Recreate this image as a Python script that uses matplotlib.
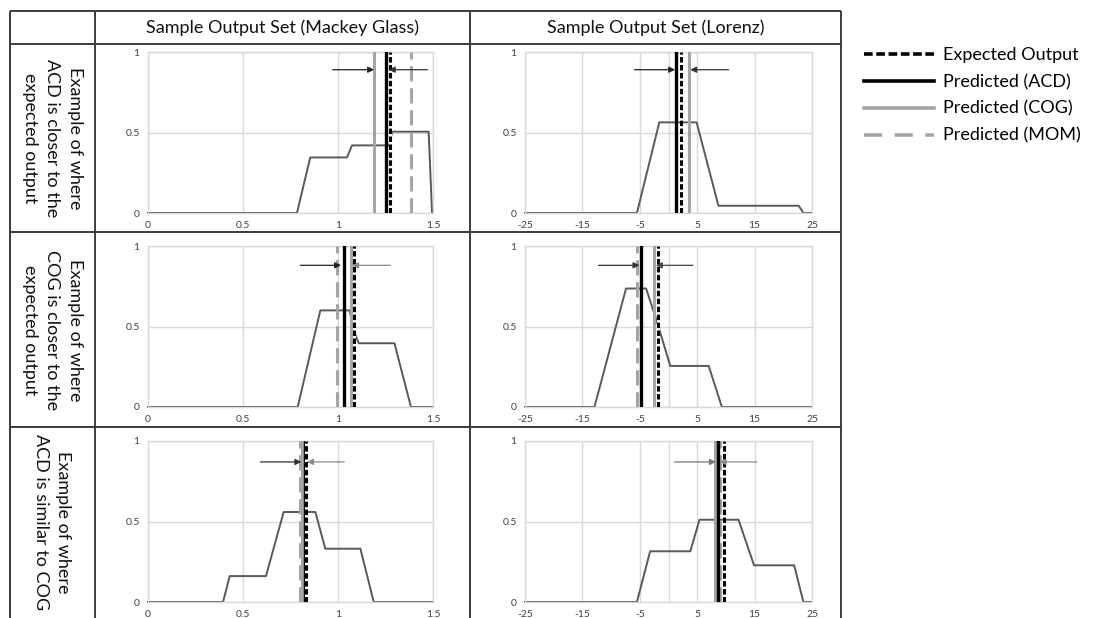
import matplotlib
matplotlib.use('Agg')
import matplotlib.pyplot as plt
from matplotlib.lines import Line2D

plt.rcParams['font.family'] = ['Lato', 'DejaVu Sans']

W, H = 1093, 618

# ---------------- data ----------------
col_titles = ["Sample Output Set (Mackey Glass)", "Sample Output Set (Lorenz)"]
row_labels = ["Example of where\nACD is closer to the\nexpected output",
              "Example of where\nCOG is closer to the\nexpected output",
              "Example of where\nACD is similar to COG"]

mg_xticks = [0, 0.5, 1, 1.5]
mg_xticklabels = ["0", "0.5", "1", "1.5"]
lz_xticks = [-25, -15, -5, 5, 15, 25]
lz_xticklabels = ["-25", "-15", "-5", "5", "15", "25"]
y_ticks = [0, 0.5, 1]
y_ticklabels = ["0", "0.5", "1"]

# panels order: (row1 MG, row1 Lorenz, row2 MG, row2 Lorenz, row3 MG, row3 Lorenz)
curve_x = [
    [0, 0.784, 0.854, 1.047, 1.074, 1.27, 1.285, 1.477, 1.495, 1.5],
    [-25, -5.5, -1.6, 4.9, 8.7, 22.7, 23.5, 25],
    [0, 0.788, 0.907, 1.061, 1.085, 1.109, 1.297, 1.384, 1.5],
    [-25, -12.9, -7.4, -3.9, -1.75, 0.3, 7.0, 9.3, 25],
    [0, 0.395, 0.43, 0.621, 0.714, 0.881, 0.933, 1.118, 1.188, 1.5],
    [-25, -5.5, -3.2, 3.8, 5.4, 12.2, 14.9, 21.9, 23.5, 25],
]
curve_y = [
    [0, 0, 0.345, 0.345, 0.42, 0.42, 0.505, 0.505, 0, 0],
    [0, 0, 0.563, 0.563, 0.045, 0.045, 0, 0],
    [0, 0, 0.60, 0.60, 0.47, 0.396, 0.396, 0, 0],
    [0, 0, 0.736, 0.736, 0.50, 0.255, 0.255, 0, 0],
    [0, 0, 0.161, 0.161, 0.559, 0.559, 0.331, 0.331, 0, 0],
    [0, 0, 0.315, 0.315, 0.511, 0.511, 0.228, 0.228, 0, 0],
]
expected_vals = [1.275, 2.15, 1.086, -1.86, 0.829, 9.6]
acd_vals = [1.254, 1.34, 1.030, -4.83, 0.826, 8.55]
cog_vals = [1.191, 3.6, 1.070, -2.44, 0.812, 8.14]
mom_vals = [1.384, 1.34, 0.996, -5.52, 0.798, 9.0]

arrow_y = [0.89, 0.89, 0.88, 0.88, 0.87, 0.87]
arrow_left_from = [0.972, -5.93, 0.802, -12.2, 0.591, 1.05]
arrow_left_to = [1.19, 1.16, 1.016, -5.06, 0.807, 8.26]
arrow_right_from = [1.472, 10.47, 1.275, 4.24, 1.033, 15.4]
arrow_right_to = [1.267, 3.78, 1.074, -2.2, 0.837, 8.9]
arrow_left_color = ['#222222', '#222222', '#222222', '#333333', '#333333', '#777777']
arrow_right_color = ['#333333', '#333333', '#888888', '#444444', '#888888', '#888888']

# ---------------- layout (pixels) ----------------
col_x = [(148, 433), (525, 812)]
row_y = [(52, 213), (246, 407), (441, 602)]

fig = plt.figure(figsize=(W / 100, H / 100), dpi=100)

# overlay axes for the table frame and texts
ax0 = fig.add_axes([0, 0, 1, 1], zorder=-1)
ax0.set_xlim(0, W)
ax0.set_ylim(H, 0)
ax0.axis('off')
tc = '#3c3c3c'
for yy in [11, 44, 232, 427]:
    ax0.plot([10, 841], [yy, yy], color=tc, lw=1.4, solid_capstyle='butt')
for xx in [10, 95, 470, 841]:
    ax0.plot([xx, xx], [11, 618], color=tc, lw=1.4, solid_capstyle='butt')

ax0.text((95 + 470) / 2, 28, col_titles[0], ha='center', va='center', fontsize=13, color='#111111')
ax0.text((470 + 841) / 2, 28, col_titles[1], ha='center', va='center', fontsize=13, color='#111111')
row_centers = [138, 330, 522]
for lbl, yc in zip(row_labels, row_centers):
    ax0.text(52, yc, lbl, rotation=-90, ha='center', va='center', multialignment='center',
             fontsize=13, color='#111111', linespacing=1.5)

grid_c = '#d9d9d9'
curve_c = '#595959'
gray_c = '#a5a5a5'

for i in range(6):
    r, c = divmod(i, 2)
    x0, x1 = col_x[c]
    y0, y1 = row_y[r]
    ax = fig.add_axes([x0 / W, 1 - y1 / H, (x1 - x0) / W, (y1 - y0) / H])
    ax.set_facecolor('none')
    if c == 0:
        ax.set_xlim(0, 1.5)
        ax.set_xticks(mg_xticks)
        ax.set_xticklabels(mg_xticklabels)
    else:
        ax.set_xlim(-25, 25)
        ax.set_xticks(lz_xticks)
        ax.set_xticklabels(lz_xticklabels)
        ax.axvline(0, color=grid_c, lw=1.0, zorder=1)
    ax.set_ylim(0, 1)
    ax.set_yticks(y_ticks)
    ax.set_yticklabels(y_ticklabels)
    ax.grid(True, color=grid_c, lw=1.0, zorder=0)
    ax.set_axisbelow(True)
    for s in ax.spines.values():
        s.set_color(grid_c)
        s.set_linewidth(1.0)
    ax.tick_params(length=0, labelsize=7.5, colors='#404040', pad=6)
    for lab in ax.get_xticklabels() + ax.get_yticklabels():
        lab.set_color('#404040')

    ax.plot(curve_x[i], curve_y[i], color=curve_c, lw=1.4, zorder=2, clip_on=False)

    ax.axvline(mom_vals[i], color=gray_c, lw=2.2, linestyle=(0, (5, 2.2)), zorder=3)
    ax.axvline(cog_vals[i], color=gray_c, lw=2.2, zorder=4)
    ax.axvline(acd_vals[i], color='black', lw=2.4, zorder=5)
    ax.axvline(expected_vals[i], color='white', lw=2.2, zorder=6)
    ax.axvline(expected_vals[i], color='black', lw=2.2, linestyle=(0, (1.8, 0.8)), zorder=7)

    ax.annotate('', xy=(arrow_left_to[i], arrow_y[i]), xytext=(arrow_left_from[i], arrow_y[i]),
                arrowprops=dict(arrowstyle='-|>', color=arrow_left_color[i], lw=0.9,
                                mutation_scale=9, shrinkA=0, shrinkB=0), zorder=8)
    ax.annotate('', xy=(arrow_right_to[i], arrow_y[i]), xytext=(arrow_right_from[i], arrow_y[i]),
                arrowprops=dict(arrowstyle='-|>', color=arrow_right_color[i], lw=0.9,
                                mutation_scale=9, shrinkA=0, shrinkB=0), zorder=8)

# legend
handles = [
    Line2D([], [], color='black', lw=2.6, linestyle=(0, (2.4, 1.0))),
    Line2D([], [], color='black', lw=2.6),
    Line2D([], [], color=gray_c, lw=2.6),
    Line2D([], [], color=gray_c, lw=2.6, linestyle=(0, (5, 3.5))),
]
labels = ["Expected Output", "Predicted (ACD)", "Predicted (COG)", "Predicted (MOM)"]
fig.legend(handles, labels, loc='upper left', bbox_to_anchor=(864 / W, 1 - 47 / H),
           frameon=False, fontsize=13, handlelength=3.9, handletextpad=0.45,
           labelspacing=0.6, borderpad=0, borderaxespad=0)

fig.savefig('out.png', dpi=100, facecolor='white')
